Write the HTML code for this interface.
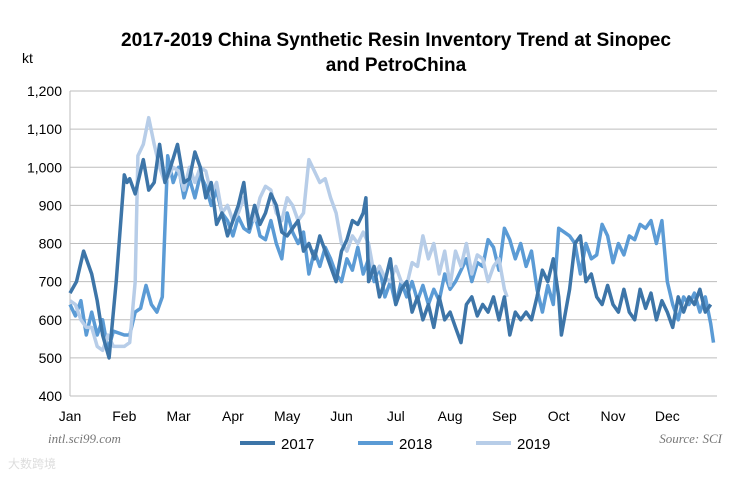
<!DOCTYPE html>
<html><head><meta charset="utf-8"><style>
body{margin:0;background:#fff;width:746px;height:477px;overflow:hidden;font-family:"Liberation Sans",sans-serif}
</style></head><body>
<svg width="746" height="477">
<text x="396" y="46" text-anchor="middle" font-size="19" font-weight="bold" fill="#000" textLength="550" lengthAdjust="spacingAndGlyphs">2017-2019 China Synthetic Resin Inventory Trend at Sinopec</text>
<text x="396" y="71" text-anchor="middle" font-size="19" font-weight="bold" fill="#000">and PetroChina</text>
<text x="22" y="63" font-size="14" fill="#000">kt</text>
<g id="grid"></g><g id="yticks"></g><g id="xticks"></g><g id="series"></g>
<text x="48" y="443" font-family="Liberation Serif" font-style="italic" font-size="13" fill="#777">intl.sci99.com</text>
<text x="722" y="443" text-anchor="end" font-family="Liberation Serif" font-style="italic" font-size="13" fill="#777">Source: SCI</text>
<text x="8" y="468" font-size="12" fill="#ddd" font-family="'Liberation Sans','Noto Sans CJK SC',sans-serif">大数跨境</text>
<g id="legend"></g>
</svg>
<script>
const yTicks=[400,500,600,700,800,900,1000,1100,1200];
const months=["Jan","Feb","Mar","Apr","May","Jun","Jul","Aug","Sep","Oct","Nov","Dec"];
const seriesNames=["2017","2018","2019"];
const x2017=[0,.12,.25,.4,.5,.6,.72,.85,1.0,1.05,1.1,1.2,1.35,1.45,1.55,1.65,1.75,1.85,1.98,2.1,2.2,2.3,2.4,2.5,2.6,2.7,2.8,2.9,3.0,3.1,3.2,3.3,3.4,3.5,3.6,3.7,3.8,3.9,4.0,4.1,4.2,4.3,4.4,4.5,4.6,4.7,4.8,4.9,5.0,5.1,5.2,5.3,5.4,5.45,5.5,5.6,5.7,5.8,5.9,6.0,6.1,6.2,6.3,6.4,6.5,6.6,6.7,6.8,6.9,7.0,7.1,7.2,7.3,7.4,7.5,7.6,7.7,7.8,7.9,8.0,8.1,8.2,8.3,8.4,8.5,8.6,8.7,8.8,8.9,9.0,9.05,9.2,9.3,9.4,9.5,9.6,9.7,9.8,9.9,10.0,10.1,10.2,10.3,10.4,10.5,10.6,10.7,10.8,10.9,11.0,11.1,11.2,11.3,11.4,11.5,11.6,11.7,11.8];
const v2017=[670,700,780,720,650,560,500,700,980,960,970,930,1020,940,960,1060,960,1000,1060,960,970,1040,1000,920,960,850,880,820,860,900,960,840,900,850,880,930,900,830,820,840,860,780,800,760,820,780,740,700,780,810,860,850,880,920,700,740,660,700,760,640,680,700,620,660,600,640,580,660,600,620,580,540,640,660,610,640,620,660,600,660,560,620,600,620,600,660,730,700,760,660,560,680,800,820,700,720,660,640,690,640,620,680,620,600,680,630,670,600,650,620,580,660,620,660,640,680,620,640];
const x2018=[0,.1,.2,.3,.4,.5,.6,.7,.8,1.0,1.1,1.2,1.3,1.4,1.5,1.6,1.7,1.8,1.9,2.0,2.1,2.2,2.3,2.4,2.5,2.6,2.7,2.8,2.9,3.0,3.1,3.2,3.3,3.4,3.5,3.6,3.7,3.8,3.9,4.0,4.1,4.2,4.3,4.4,4.5,4.6,4.7,4.8,4.9,5.0,5.1,5.2,5.3,5.4,5.5,5.6,5.7,5.8,5.9,6.0,6.1,6.2,6.3,6.4,6.5,6.6,6.7,6.8,6.9,7.0,7.1,7.2,7.3,7.4,7.5,7.6,7.7,7.8,7.9,8.0,8.1,8.2,8.3,8.4,8.5,8.6,8.7,8.8,8.9,9.0,9.1,9.2,9.3,9.4,9.5,9.6,9.7,9.8,9.9,10.0,10.1,10.2,10.3,10.4,10.5,10.6,10.7,10.8,10.9,11.0,11.1,11.2,11.3,11.4,11.5,11.6,11.7,11.8,11.85];
const v2018=[640,610,650,560,620,560,600,520,570,560,560,620,630,690,640,620,660,1030,960,1000,920,970,920,980,950,900,940,880,860,820,870,840,830,880,820,810,860,800,760,880,830,800,830,720,780,740,790,760,720,700,760,730,790,720,760,700,740,660,700,640,700,660,700,650,690,640,680,650,720,680,700,730,760,700,750,740,810,790,730,840,810,760,800,740,780,680,620,690,640,840,830,820,800,720,800,760,770,850,820,750,800,770,820,810,850,840,860,800,860,700,640,600,660,640,670,620,660,590,540];
const x2019=[0,.1,.2,.3,.4,.5,.6,.7,.8,1.0,1.1,1.2,1.25,1.35,1.45,1.55,1.65,1.75,1.9,2.0,2.1,2.2,2.3,2.4,2.5,2.6,2.7,2.8,2.9,3.0,3.1,3.2,3.3,3.4,3.5,3.6,3.7,3.8,3.9,4.0,4.1,4.2,4.3,4.4,4.5,4.6,4.7,4.8,4.9,5.0,5.1,5.2,5.3,5.4,5.5,5.6,5.7,5.8,5.9,6.0,6.1,6.2,6.3,6.4,6.5,6.6,6.7,6.8,6.9,7.0,7.1,7.2,7.3,7.4,7.5,7.6,7.7,7.8,7.9,8.0,8.05];
const v2019=[650,640,600,580,580,530,520,560,530,530,540,700,1030,1060,1130,1060,1000,960,1000,990,940,1000,960,1000,990,930,960,880,900,860,880,920,870,860,920,950,940,880,860,920,900,860,880,1020,990,960,970,920,880,800,780,820,800,830,800,720,740,710,700,740,700,690,750,740,820,760,800,720,780,690,780,740,800,720,770,760,700,740,760,680,660];
const colors=["#3d75a8","#5b9bd5","#b7cde8"];
const NS="http://www.w3.org/2000/svg";
const X0=70,PXM=54.3,Y0=396,PXU=305/800;
const xs=m=>X0+m*PXM, ys=v=>Y0-(v-400)*PXU;
function mk(t,a,p){const e=document.createElementNS(NS,t);for(const k in a)e.setAttribute(k,a[k]);p.appendChild(e);return e;}
const grid=document.getElementById('grid'),yt=document.getElementById('yticks'),xt=document.getElementById('xticks');
yTicks.forEach(v=>{
 const l=mk('line',{x1:X0,x2:717,y1:ys(v),y2:ys(v),stroke:'#bdbdbd','stroke-width':1},grid);
 
 
 const t=mk('text',{x:X0-8,y:ys(v)+5,'text-anchor':'end','font-size':14,fill:'#000'},yt);
 t.textContent=v.toLocaleString('en-US');
 
 
});
const ax=mk('line',{x1:X0,x2:X0,y1:ys(1200),y2:Y0,stroke:'#bdbdbd'},grid);


months.forEach((m,i)=>{
 const t=mk('text',{x:xs(i),y:421,'text-anchor':'middle','font-size':14,fill:'#000'},xt);
 t.textContent=m;
 
 
});
const sg=document.getElementById('series');
[[x2017,v2017],[x2018,v2018],[x2019,v2019]].forEach((s,i)=>{
 const pts=s[0].map((m,j)=>xs(m).toFixed(1)+','+ys(s[1][j]).toFixed(1)).join(' ');
 const p=mk('polyline',{points:pts,fill:'none',stroke:colors[i],'stroke-width':3.5,'stroke-linejoin':'round'},sg);
 
 
});
sg.appendChild(sg.children[0]);
const lg=document.getElementById('legend');
seriesNames.forEach((n,i)=>{
 const bx=240+i*118;
 const l=mk('line',{x1:bx,x2:bx+35,y1:443,y2:443,stroke:colors[i],'stroke-width':4},lg);
 
 
 const t=mk('text',{x:bx+41,y:449,'font-size':15,fill:'#000'},lg);
 t.textContent=n;
 
 
});
</script>
</body></html>
